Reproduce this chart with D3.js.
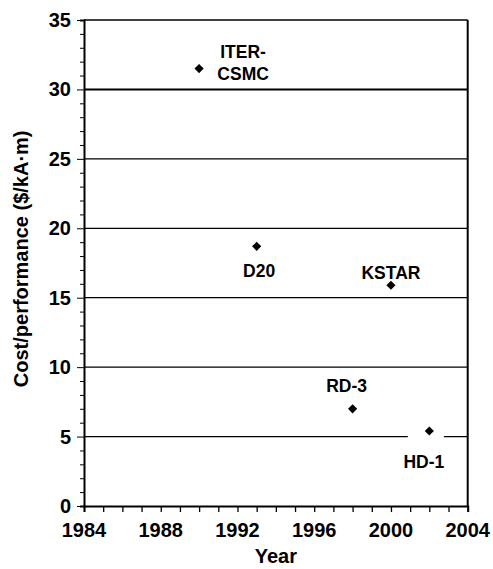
<!DOCTYPE html>
<html><head><meta charset="utf-8">
<script src="https://cdn.jsdelivr.net/npm/d3@7"></script>
<style>body{margin:0;background:#fff}svg{display:block}text{font-family:"Liberation Sans",Arial,sans-serif;font-weight:bold;fill:#000}</style>
</head><body>
<script>
const names = ["ITER-CSMC", "D20", "KSTAR", "RD-3", "HD-1"];
const labelLines = [["ITER-", "CSMC"], ["D20"], ["KSTAR"], ["RD-3"], ["HD-1"]];
const years = [1990, 1993, 2000, 1998, 2002];
const costs = [31.5, 18.7, 15.9, 7.0, 5.4];
const xTicks = [1984, 1988, 1992, 1996, 2000, 2004];
const yTicks = [0, 5, 10, 15, 20, 25, 30, 35];
const gridValues = [5, 10, 15, 20, 25, 30];
// label placement (pixels relative to marker)
const labelOffsets = [[44, -10.6, 22], [2.5, 30.5, 0], [0, -6.7, 0], [-6, -17.3, 0], [-5.5, 37.3, 0]];

const W = 493, H = 569;
const svg = d3.select("body").append("svg").attr("width", W).attr("height", H);
const x = d3.scaleLinear().domain([1984, 2004]).range([84, 467.7]);
const y = d3.scaleLinear().domain([0, 35]).range([506, 20]);

// grid lines
svg.append("g").selectAll("line").data(gridValues).join("line")
  .attr("x1", x(1984)).attr("x2", x(2004))
  .attr("y1", d => y(d)).attr("y2", d => y(d))
  .attr("stroke", "#000").attr("stroke-width", d => d === 30 ? 2 : 1.2);
// top border
svg.append("line").attr("x1", x(1984)).attr("x2", x(2004)).attr("y1", y(35)).attr("y2", y(35))
  .attr("stroke", "#000").attr("stroke-width", 1.5);
// right border
svg.append("line").attr("x1", x(2004)).attr("x2", x(2004)).attr("y1", y(35)).attr("y2", y(0))
  .attr("stroke", "#000").attr("stroke-width", 2);

// white gap behind HD-1 label area
const hi = names.indexOf("HD-1");
svg.append("rect").attr("x", x(years[hi]) - 21.5).attr("width", 36)
  .attr("y", y(costs[hi]) + 4.5).attr("height", 4).attr("fill", "#fff");

// Y axis
const yMinor = d3.range(0, 36, 1);
const yAxisG = svg.append("g").attr("transform", `translate(${x(1984)},0)`);
yAxisG.call(d3.axisLeft(y).tickValues(yMinor).tickSize(4).tickFormat(""));
yAxisG.call(g => g.selectAll(".tick line").attr("stroke-width", 1));
yAxisG.selectAll(".tick").filter(d => d % 5 === 0).select("line").attr("x2", -7);
yAxisG.select(".domain").attr("stroke-width", 2);
svg.append("g").selectAll("text").data(yTicks).join("text")
  .attr("x", 71).attr("y", d => y(d)).attr("dy", "0.35em")
  .attr("text-anchor", "end").attr("font-size", 20).text(d => d);

// X axis
const xMinor = d3.range(1984, 2005, 1);
const xAxisG = svg.append("g").attr("transform", `translate(0,${y(0)})`);
xAxisG.call(d3.axisBottom(x).tickValues(xMinor).tickSize(6).tickFormat(""));
xAxisG.select(".domain").attr("stroke-width", 2);
xAxisG.selectAll(".tick line").attr("stroke-width", 1.3);
svg.append("g").selectAll("text").data(xTicks).join("text")
  .attr("x", d => x(d)).attr("y", 537)
  .attr("text-anchor", "middle").attr("font-size", 20).text(d => d);

// axis titles
svg.append("text").attr("x", x(1994)).attr("y", 563).attr("text-anchor", "middle")
  .attr("font-size", 20).text("Year");
svg.append("text").attr("transform", `translate(28,${y(17.8)}) rotate(-90)`)
  .attr("text-anchor", "middle").attr("font-size", 20).text("Cost/performance ($/kA·m)");

// markers (diamonds = rotated squares)
const sym = d3.symbol().type(d3.symbolSquare).size(42);
svg.append("g").selectAll("path").data(years).join("path")
  .attr("transform", (d, i) => `translate(${x(d)},${y(costs[i])}) rotate(45)`)
  .attr("d", sym).attr("fill", "#000");

// labels
const lg = svg.append("g");
names.forEach((n, i) => {
  const [dx, dy, lh] = labelOffsets[i];
  const t = lg.append("text").attr("text-anchor", "middle").attr("font-size", 17.5);
  labelLines[i].forEach((line, k) => {
    t.append("tspan").attr("x", x(years[i]) + dx).attr("y", y(costs[i]) + dy + k * lh).text(line);
  });
});
</script>
</body></html>
